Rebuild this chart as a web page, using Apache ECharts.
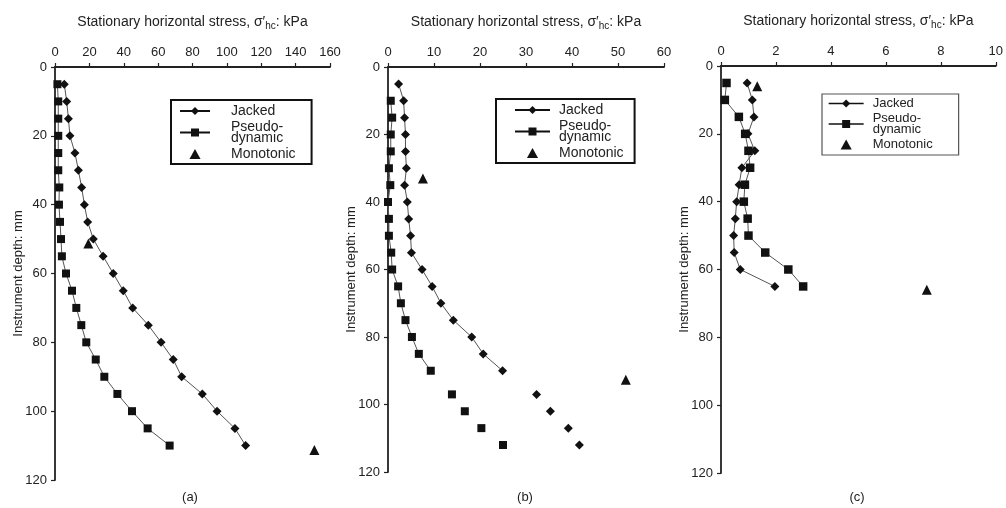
<!DOCTYPE html>
<html><head><meta charset="utf-8">
<script src="https://cdn.jsdelivr.net/npm/echarts@6/dist/echarts.min.js"></script>
<style>html,body{margin:0;padding:0;background:#fff}#c{width:1006px;height:508px}</style>
</head><body><div id="c"></div>
<script>
// ---------- data ----------
const seriesNames = ['Jacked', 'Pseudo-dynamic', 'Monotonic'];
const panelLabels = ['(a)', '(b)', '(c)'];
const xTitle = 'Stationary horizontal stress, σ′{sub|hc}: kPa';
const yTitle = 'Instrument depth: mm';

// Panel (a)
const depthA = [5,10,15,20,25,30,35,40,45,50,55,60,65,70,75,80,85,90,95,100,105,110];
const jackedA = [5.4,6.8,7.8,8.7,11.6,13.6,15.5,17.1,19.0,22.3,28.0,33.9,39.7,45.2,54.3,61.7,68.8,73.7,85.7,94.3,104.7,110.9];
const pseudoA = [1.4,1.9,1.9,1.9,1.9,1.9,2.5,2.3,2.9,3.5,4.0,6.4,9.9,12.4,15.3,18.2,23.7,28.7,36.3,44.8,53.9,66.7];
const monoAx = [19.4, 150.9];
const monoAd = [51.3, 111.3];

// Panel (b)
const depthJB = [5,10,15,20,25,30,35,40,45,50,55,60,65,70,75,80,85,90];
const jackedB = [2.3,3.4,3.6,3.8,3.8,4.0,3.6,4.2,4.5,4.9,5.1,7.4,9.6,11.5,14.2,18.2,20.7,24.9];
const depthPB = [10,15,20,25,30,35,40,45,50,55,60,65,70,75,80,85,90];
const pseudoB = [0.6,0.9,0.6,0.6,0.2,0.5,0.0,0.2,0.2,0.7,0.9,2.2,2.8,3.8,5.2,6.7,9.3];
const depthExtraB = [97,102,107,112];
const jackedExtraB = [32.3,35.3,39.2,41.6];
const pseudoExtraB = [13.9,16.7,20.3,25.0];
const monoBx = [7.6, 51.7];
const monoBd = [33, 92.7];

// Panel (c)
const depthC = [5,10,15,20,25,30,35,40,45,50,55,60,65];
const jackedC = [0.95,1.14,1.2,0.98,1.23,0.76,0.66,0.57,0.52,0.46,0.48,0.7,1.96];
const pseudoC = [0.2,0.14,0.65,0.88,1.0,1.06,0.87,0.83,0.97,1.0,1.61,2.45,2.99];
const monoCx = [1.32, 7.49];
const monoCd = [6, 66];

// axis ranges
const xMax = [160, 60, 10];
const xStep = [20, 10, 2];
const yMax = 120, yStep = 20;

// ---------- build ----------
const FONT = '"Liberation Sans", Arial, Helvetica, sans-serif';
const TXT = '#222';
const pairs = (xs, ds) => xs.map((v, i) => [v, ds[i]]);

const grids = [
  {left: 55, top: 67, width: 275, height: 413},
  {left: 388, top: 67, width: 276, height: 405},
  {left: 721, top: 66, width: 277, height: 407}
];

const xAxes = grids.map((g, i) => ({
  gridIndex: i, type: 'value', position: 'top', min: 0, max: xMax[i], interval: xStep[i],
  name: xTitle, nameLocation: 'middle', nameGap: 36,
  nameTextStyle: {fontFamily: FONT, fontSize: 14, color: TXT, lineHeight: 18,
    rich: {sub: {fontFamily: FONT, fontSize: 10, color: TXT, verticalAlign: 'bottom', lineHeight: 10}}},
  axisLine: {onZero: false, lineStyle: {color: '#222', width: 1.8}},
  axisTick: {show: true, length: 4, lineStyle: {color: '#222', width: 1.2}},
  axisLabel: {fontFamily: FONT, fontSize: 13, color: TXT, margin: 8},
  splitLine: {show: false}
}));

const yAxes = grids.map((g, i) => ({
  gridIndex: i, type: 'value', inverse: true, min: 0, max: yMax, interval: yStep,
  name: yTitle, nameLocation: 'middle', nameGap: 30, nameRotate: 90, nameMoveOverlap: false,
  nameTextStyle: {fontFamily: FONT, fontSize: 13, color: TXT},
  axisLine: {onZero: false, lineStyle: {color: '#222', width: 1.8}},
  axisTick: {show: true, length: 4, lineStyle: {color: '#222', width: 1.2}},
  axisLabel: {fontFamily: FONT, fontSize: 13, color: TXT, margin: 8},
  splitLine: {show: false}
}));

const lineS = (name, idx, data, sym, size) => ({
  name, type: 'line', xAxisIndex: idx, yAxisIndex: idx, data,
  symbol: sym, symbolSize: size, showSymbol: true,
  itemStyle: {color: '#111', opacity: 1}, lineStyle: {color: '#555', width: 1},
  emphasis: {disabled: true}
});
const scatS = (name, idx, data, sym, size) => ({
  name, type: 'scatter', xAxisIndex: idx, yAxisIndex: idx, data,
  symbol: sym, symbolSize: size, itemStyle: {color: '#111', opacity: 1},
  emphasis: {disabled: true}
});

const series = [
  lineS(seriesNames[0], 0, pairs(jackedA, depthA), 'diamond', 9),
  lineS(seriesNames[1], 0, pairs(pseudoA, depthA), 'rect', 8),
  scatS(seriesNames[2], 0, pairs(monoAx, monoAd), 'triangle', 10),

  lineS(seriesNames[0], 1, pairs(jackedB, depthJB), 'diamond', 9),
  lineS(seriesNames[1], 1, pairs(pseudoB, depthPB), 'rect', 8),
  scatS('jackedExtraB', 1, pairs(jackedExtraB, depthExtraB), 'diamond', 9),
  scatS('pseudoExtraB', 1, pairs(pseudoExtraB, depthExtraB), 'rect', 8),
  scatS(seriesNames[2], 1, pairs(monoBx, monoBd), 'triangle', 10),

  lineS(seriesNames[0], 2, pairs(jackedC, depthC), 'diamond', 9),
  lineS(seriesNames[1], 2, pairs(pseudoC, depthC), 'rect', 8.5),
  scatS(seriesNames[2], 2, pairs(monoCx, monoCd), 'triangle', 10)
];

const legendFmt = n => n === 'Pseudo-dynamic' ? '{sp|\u00a0}Pseudo-\n{sp|\u00a0}dynamic' : '{sp|\u00a0}' + n;
const mkLegend = (left, top, pad, iw, sp, fs, lh, gap, bw, bc, lw) => ({
  orient: 'vertical', align: 'left', left, top, padding: pad,
  itemWidth: iw, itemHeight: 10, itemGap: gap, selectedMode: false, symbolKeepAspect: true,
  borderColor: bc, borderWidth: bw, backgroundColor: '#fff',
  lineStyle: {color: '#111', width: lw},
  data: [seriesNames[0], seriesNames[1], {name: seriesNames[2], icon: 'path://M5 0L10 9L0 9Z'}],
  formatter: legendFmt,
  textStyle: {fontFamily: FONT, fontSize: fs, color: TXT, lineHeight: lh,
    rich: {sp: {width: sp, fontSize: fs, lineHeight: lh}}}
});

const legends = [
  mkLegend(171, 100, [4, 16, 3, 8], 30, 16, 14, 11, 2, 2, '#111', 2),
  mkLegend(496, 99, [4, 11, 3, 18], 35, 4, 14, 11, 2, 2, '#111', 2),
  mkLegend(822, 94, [3, 26, 4, 6], 35, 4, 13, 11, 2, 1.2, '#555', 1.3)
];

const labelX = [190, 525, 857];
const graphic = panelLabels.map((t, i) => ({
  type: 'text', x: labelX[i], y: 497,
  style: {text: t, fontFamily: FONT, fontSize: 13, fill: TXT, align: 'center', verticalAlign: 'middle'}
}));

const chart = echarts.init(document.getElementById('c'), null, {renderer: 'canvas'});
chart.setOption({
  animation: false,
  backgroundColor: '#fff',
  textStyle: {fontFamily: FONT},
  grid: grids,
  xAxis: xAxes,
  yAxis: yAxes,
  legend: legends,
  series,
  graphic
});
</script></body></html>
